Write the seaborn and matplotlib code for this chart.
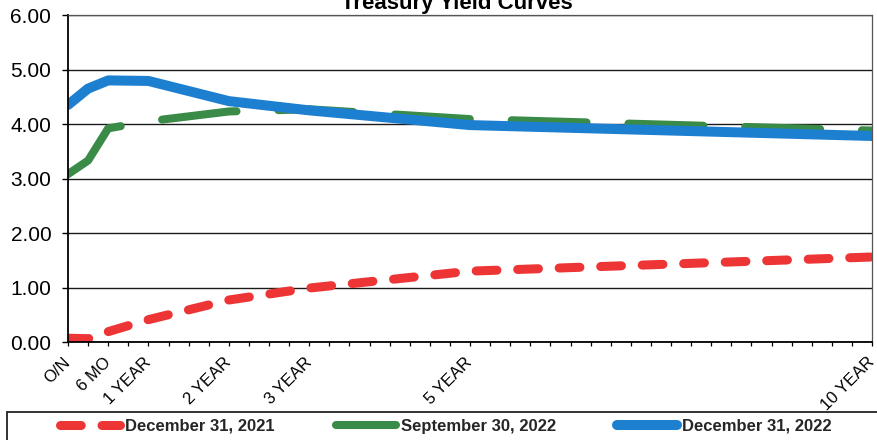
import matplotlib
matplotlib.use("Agg")
import matplotlib.pyplot as plt
from matplotlib.patches import Rectangle
from matplotlib.ticker import MultipleLocator
import seaborn as sns

# Maturity positions on a quarterly axis (0 = overnight, 40 = ten years)
tenor_quarters = [0, 1, 2, 4, 8, 12, 20, 40]
tenor_labels = ["O/N", "", "6 MO", "1 YEAR", "2 YEAR", "3 YEAR", "5 YEAR", "10 YEAR"]

# Yields (%) for each curve date
yields_dec_2021 = [0.07, 0.06, 0.19, 0.41, 0.77, 0.99, 1.30, 1.56]
yields_sep_2022 = [3.08, 3.33, 3.92, 4.05, 4.23, 4.27, 4.09, 3.88]
yields_dec_2022 = [4.35, 4.65, 4.80, 4.79, 4.42, 4.25, 3.98, 3.78]

series_names = ["December 31, 2021", "September 30, 2022", "December 31, 2022"]
y_ticks = [0, 1, 2, 3, 4, 5, 6]

sns.set_style("white")
plt.rcParams["font.family"] = ["Liberation Sans", "DejaVu Sans"]

W, H = 877, 440
fig = plt.figure(figsize=(W / 100, H / 100), dpi=100)
ax = fig.add_axes([68 / W, 1 - 342 / H, (872 - 68) / W, (342 - 15) / H])

red, green, blue = "#ee3535", "#3a8b47", "#1d7fd0"

sns.lineplot(x=tenor_quarters, y=yields_dec_2021, ax=ax, color=red, linewidth=6.5,
             linestyle=(0, (2.3, 2.3)), dash_capstyle="round",
             label=series_names[0], sort=False)
sns.lineplot(x=tenor_quarters, y=yields_sep_2022, ax=ax, color=green, linewidth=5.8,
             linestyle=(0, (9.3, 5.2)), dash_capstyle="round", solid_joinstyle="round",
             label=series_names[1], sort=False)
sns.lineplot(x=tenor_quarters, y=yields_dec_2022, ax=ax, color=blue, linewidth=7.2,
             solid_capstyle="round", solid_joinstyle="round",
             label=series_names[2], sort=False)

ax.set_xlim(0, 40)
ax.set_ylim(0, 6)
ax.set_xlabel("")
ax.set_ylabel("")

# Y axis: fixed two-decimal labels and horizontal gridlines
ax.set_yticks(y_ticks)
ax.set_yticklabels([f"{v:.2f}" for v in y_ticks])
ax.yaxis.grid(True, color="#1a1a1a", linewidth=1.0)
ax.xaxis.grid(False)
ax.set_axisbelow(True)
ax.tick_params(axis="y", which="major", direction="out", length=4, width=1.0,
               color="black", pad=8, labelsize=15, labelcolor="black", left=True)

# X axis: a tick every quarter, labels only at key maturities
ax.set_xticks(tenor_quarters)
ax.set_xticklabels(tenor_labels)
ax.xaxis.set_minor_locator(MultipleLocator(1))
ax.tick_params(axis="x", which="both", direction="out", length=3, width=0.9,
               color="black", bottom=True)
ax.tick_params(axis="x", which="major", pad=10, labelsize=12, labelcolor="black")
for lbl in ax.get_xticklabels():
    lbl.set_rotation(45)
    lbl.set_ha("right")
    lbl.set_va("center")
    lbl.set_rotation_mode("anchor")

for side in ["left", "bottom"]:
    ax.spines[side].set_color("black")
    ax.spines[side].set_linewidth(1.3)
for side in ["top", "right"]:
    ax.spines[side].set_color("#555555")
    ax.spines[side].set_linewidth(0.9)

fig.text(457 / W, 1 - 9 / H, "Treasury Yield Curves", ha="center", va="baseline",
         fontsize=16, fontweight="bold", color="black")

# Legend row beneath the plot inside a framed box
handles, labels = ax.get_legend_handles_labels()
ax.get_legend().remove()
fig.legend(handles, labels, loc="center", ncol=3, mode="expand",
           bbox_to_anchor=(60 / W, 1 - 436 / H, (832 - 60) / W, 20 / H),
           frameon=False, borderpad=0, borderaxespad=0,
           handlelength=3.6, handletextpad=0.3,
           prop={"size": 12, "weight": "bold"})
fig.add_artist(Rectangle((7 / W, -0.1), (886 - 7) / W, (1 - 412 / H) + 0.1,
                         transform=fig.transFigure, fill=False,
                         edgecolor="#222222", linewidth=1.3, clip_on=False))

fig.savefig("out.png", dpi=100)
